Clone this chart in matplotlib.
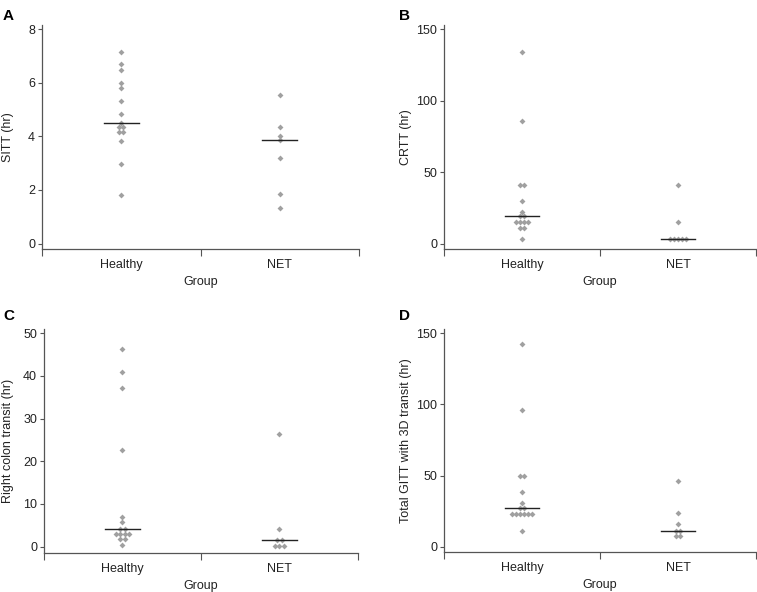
import numpy as np
import matplotlib
matplotlib.use("Agg")
import matplotlib.pyplot as plt

plt.rcParams["font.family"] = ["Liberation Sans", "DejaVu Sans"]

# valores (hr)
groups = ["Healthy", "NET"]

sitt_healthy = [7.15, 6.68, 6.49, 5.99, 5.81, 5.31, 4.82, 4.50, 4.33, 4.33,
                4.16, 4.16, 3.81, 2.98, 1.82]
sitt_net = [5.53, 4.36, 4.03, 3.85, 3.20, 1.86, 1.33]

crtt_healthy = [134.4, 85.8, 41.1, 41.1, 29.9, 22.4, 19.4, 19.4, 15.0, 15.0,
                15.0, 15.0, 11.2, 11.2, 3.3]
crtt_net = [41.1, 15.0, 3.3, 3.3, 3.3, 3.3, 3.3]

rct_healthy = [46.2, 40.9, 37.1, 22.6, 7.0, 5.7, 4.2, 4.2, 2.9, 2.9, 2.9,
               2.9, 1.7, 1.7, 0.4]
rct_net = [26.4, 4.1, 1.6, 1.6, 0.2, 0.2, 0.2]

gitt_healthy = [142.3, 96.1, 49.9, 49.9, 38.3, 30.9, 27.0, 27.0, 23.0, 23.0,
                23.0, 23.0, 23.0, 23.0, 11.3]
gitt_net = [46.2, 23.5, 15.7, 11.3, 11.3, 7.5, 7.5]

panels = [
    ("A", "SITT (hr)", sitt_healthy, sitt_net, (-0.2, 8.15), [0, 2, 4, 6, 8]),
    ("B", "CRTT (hr)", crtt_healthy, crtt_net, (-3.7, 153), [0, 50, 100, 150]),
    ("C", "Right colon transit (hr)", rct_healthy, rct_net, (-1.5, 51),
     [0, 10, 20, 30, 40, 50]),
    ("D", "Total GITT with 3D transit (hr)", gitt_healthy, gitt_net,
     (-3.7, 153), [0, 50, 100, 150]),
]

# posiciones de los ejes en fracciones de figura
rects = [
    [0.0555, 0.5794, 0.4188, 0.3784],
    [0.5865, 0.5794, 0.4122, 0.3784],
    [0.0581, 0.0659, 0.4148, 0.3784],
    [0.5865, 0.0676, 0.4122, 0.3767],
]
label_pos = [(0.004, 0.985), (0.527, 0.985), (0.004, 0.478), (0.527, 0.478)]
ylabel_x = [-0.088, -0.1026, -0.0955, -0.1026]

AX_COL = "#555555"
PT_COL = "#a0a0a0"
SPACING = 0.026


def jitter(vals, center):
    vals = np.asarray(vals, dtype=float)
    xs = np.full(len(vals), center)
    for v in np.unique(vals):
        idx = np.where(vals == v)[0]
        n = len(idx)
        xs[idx] = center + (np.arange(n) - (n - 1) / 2) * SPACING
    return xs, vals


fig = plt.figure(figsize=(7.57, 5.92), dpi=100)

for (tag, ylabel, healthy, net, ylim, yticks), rect, lp, ylx in zip(
        panels, rects, label_pos, ylabel_x):
    ax = fig.add_axes(rect)
    for i, data in enumerate([healthy, net]):
        c = i + 0.5
        xs, ys = jitter(data, c)
        ax.plot(xs, ys, "D", ms=3.0, color=PT_COL, mec="none")
        med = np.median(data)
        ax.plot([c - 0.11, c + 0.11], [med, med], color="#222222", lw=1.0)

    ax.set_xlim(0, 2)
    ax.set_ylim(*ylim)
    ax.set_xticks([0, 1, 2])
    ax.set_xticklabels([])
    ax.set_xticks([0.5, 1.5], minor=True)
    ax.set_xticklabels(groups, minor=True)
    ax.tick_params(axis="x", which="major", length=5, color=AX_COL)
    ax.tick_params(axis="x", which="minor", length=0, pad=7,
                   labelsize=9, labelcolor="#222222")
    ax.set_yticks(yticks)
    ax.tick_params(axis="y", length=3, color=AX_COL, labelsize=9,
                   labelcolor="#222222", pad=2)
    for s in ["top", "right"]:
        ax.spines[s].set_visible(False)
    for s in ["left", "bottom"]:
        ax.spines[s].set_color(AX_COL)
        ax.spines[s].set_linewidth(0.9)
    ax.set_xlabel("Group", fontsize=9, color="#222222", labelpad=4)
    ax.set_ylabel(ylabel, fontsize=9, color="#222222")
    ax.yaxis.set_label_coords(ylx, 0.5)
    fig.text(lp[0], lp[1], tag, fontsize=11, fontweight="bold",
             ha="left", va="top")

fig.savefig("out.png", dpi=100)
